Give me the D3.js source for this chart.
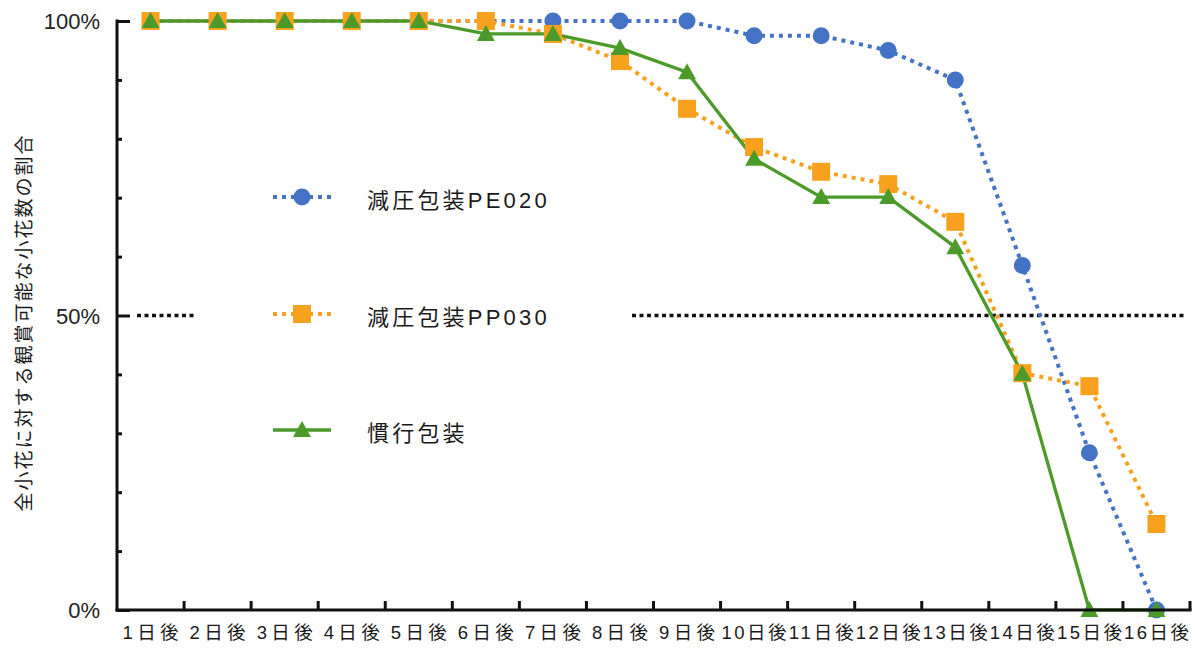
<!DOCTYPE html>
<html>
<head>
<meta charset="utf-8">
<script src="https://cdn.jsdelivr.net/npm/d3@7/dist/d3.min.js"></script>
<style>
  html, body { margin: 0; padding: 0; background: #fff; }
  svg { display: block; font-family: "Liberation Sans", Arial, "Noto Sans CJK JP", sans-serif; }
</style>
</head>
<body>
<svg id="chart" width="1195" height="648"></svg>
<script>
// Days after packaging
const days = ["1日後","2日後","3日後","4日後","5日後","6日後","7日後","8日後",
              "9日後","10日後","11日後","12日後","13日後","14日後","15日後","16日後"];

// Share of florets still ornamental (%)
const pe020 = [100,100,100,100,100,100,100,100,100,97.5,97.5,95,90,58.5,26.7,0];
const pp030 = [100,100,100,100,100,100,97.8,93.2,85.1,78.6,74.4,72.3,65.9,40.2,38,14.6];
const kanko = [100,100,100,100,100,97.8,97.8,95.4,91.3,76.6,70.1,70.1,61.6,40.1,0,0];

const seriesNames = ["減圧包装PE020","減圧包装PP030","慣行包装"];
const yTickValues = [0,50,100];
const yTickLabels = ["0%","50%","100%"];
const refValue = 50;
const yAxisTitle = "全小花に対する観賞可能な小花数の割合";

const svg = d3.select("#chart");
const plotL = 117, plotR = 1190, plotT = 21, plotB = 610;

const x = d3.scaleBand().domain(days).range([plotL, plotR]).padding(0);
const y = d3.scaleLinear().domain([0, 100]).range([plotB, plotT]);

const colors = ["#4472c4", "#f7a11e", "#4c9a2a"];
const series = [
  { name: seriesNames[0], values: pe020, color: colors[0], dash: "4,5", width: 4, marker: "circle" },
  { name: seriesNames[1], values: pp030, color: colors[1], dash: "4,5", width: 4, marker: "square" },
  { name: seriesNames[2], values: kanko, color: colors[2], dash: null,  width: 3.3, marker: "triangle" }
];

// 50% reference line
svg.append("line")
  .attr("x1", plotL + 20).attr("x2", plotR - 3)
  .attr("y1", y(refValue)).attr("y2", y(refValue))
  .attr("stroke", "#111").attr("stroke-width", 3.5)
  .attr("stroke-dasharray", "4,3.5");

// Legend (white box sits over the reference line)
const legend = svg.append("g");
legend.append("rect")
  .attr("x", 195).attr("y", 160).attr("width", 437).attr("height", 310)
  .attr("fill", "#fff");

function drawMarker(g, type, cx, cy, color) {
  if (type === "circle") {
    g.append("circle").attr("cx", cx).attr("cy", cy).attr("r", 8.5).attr("fill", color);
  } else if (type === "square") {
    g.append("rect").attr("x", cx - 9).attr("y", cy - 9).attr("width", 18).attr("height", 18).attr("fill", color);
  } else {
    g.append("path")
      .attr("d", `M${cx},${cy - 9}L${cx + 9},${cy + 7}L${cx - 9},${cy + 7}Z`)
      .attr("fill", color);
  }
}

const legendY = [197, 314, 430];
series.forEach((s, i) => {
  const ly = legendY[i];
  legend.append("line")
    .attr("x1", 273).attr("x2", 331).attr("y1", ly).attr("y2", ly)
    .attr("stroke", s.color).attr("stroke-width", s.width)
    .attr("stroke-dasharray", s.dash);
  drawMarker(legend, s.marker, 302, ly, s.color);
  legend.append("text")
    .attr("x", 367).attr("y", ly + 3)
    .attr("dominant-baseline", "central")
    .attr("font-size", 22).attr("letter-spacing", 3.2)
    .attr("fill", "#1a1a1a")
    .text(s.name);
});

// Series lines and markers
const line = d3.line()
  .x((d, i) => x(days[i]) + x.bandwidth() / 2)
  .y(d => y(d));

series.forEach(s => {
  svg.append("path")
    .datum(s.values)
    .attr("d", line)
    .attr("fill", "none")
    .attr("stroke", s.color).attr("stroke-width", s.width)
    .attr("stroke-dasharray", s.dash);
});
series.forEach(s => {
  const g = svg.append("g");
  s.values.forEach((v, i) => {
    drawMarker(g, s.marker, x(days[i]) + x.bandwidth() / 2, y(v), s.color);
  });
});

// Y axis: line, inward ticks, labels
const yAxisG = svg.append("g").attr("transform", `translate(${plotL},0)`);
yAxisG.call(d3.axisRight(y).tickValues(d3.range(0, 101, 10)).tickFormat("").tickSizeOuter(0))
  .call(g => g.select(".domain").remove())
  .call(g => g.selectAll(".tick line")
    .attr("stroke", "#111").attr("stroke-width", 3)
    .attr("x2", d => (d % 50 === 0 ? 13 : 5)));
svg.append("line")
  .attr("x1", plotL).attr("x2", plotL).attr("y1", plotT - 1.5).attr("y2", plotB + 1.5)
  .attr("stroke", "#111").attr("stroke-width", 3);

svg.append("g").attr("transform", `translate(${plotL - 14},0)`)
  .call(d3.axisLeft(y).tickValues(yTickValues).tickFormat((d, i) => yTickLabels[i]).tickSize(0))
  .call(g => g.select(".domain").remove())
  .call(g => g.selectAll("text")
    .attr("font-size", 22).attr("fill", "#222")
    .attr("font-family", "'Liberation Sans', Arial, sans-serif")
    .attr("dy", "0.35em"));

// X axis: boundary ticks and day labels
const xAxisG = svg.append("g").attr("transform", `translate(0,${plotB})`);
xAxisG.call(d3.axisBottom(x).tickSize(0).tickPadding(16))
  .call(g => g.select(".domain").remove())
  .call(g => g.selectAll("text")
    .attr("font-size", 18.5).attr("fill", "#1a1a1a")
    .attr("font-family", "'Liberation Sans', Arial, 'Noto Sans CJK JP', sans-serif")
    .attr("textLength", d => (d.length > 3 ? 65 : 56))
    .attr("lengthAdjust", "spacing"));
xAxisG.selectAll(".bound")
  .data(days)
  .enter().append("line")
  .attr("x1", d => x(d) + x.bandwidth()).attr("x2", d => x(d) + x.bandwidth())
  .attr("y1", 0).attr("y2", -9)
  .attr("stroke", "#111").attr("stroke-width", 3);
svg.append("line")
  .attr("x1", plotL - 1.5).attr("x2", plotR + 1.5).attr("y1", plotB).attr("y2", plotB)
  .attr("stroke", "#111").attr("stroke-width", 3);

// Y axis title
svg.append("text")
  .attr("transform", `translate(22,${(plotT + plotB) / 2 + 7}) rotate(-90)`)
  .attr("text-anchor", "middle")
  .attr("dominant-baseline", "central")
  .attr("font-size", 19).attr("letter-spacing", 2)
  .attr("fill", "#1a1a1a")
  .attr("font-family", "'Noto Sans CJK JP', sans-serif")
  .text(yAxisTitle);
</script>
</body>
</html>
